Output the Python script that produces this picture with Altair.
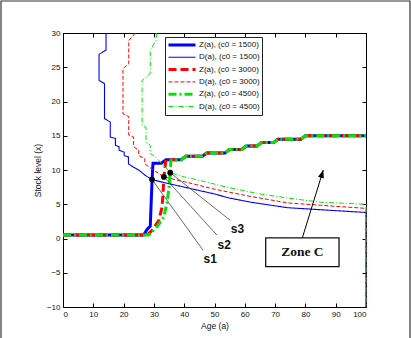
import altair as alt
import pandas as pd

# ---- series definitions -------------------------------------------------
series_names = [
    "Z(a), (c0 = 1500)", "D(a), (c0 = 1500)",
    "Z(a), (c0 = 3000)", "D(a), (c0 = 3000)",
    "Z(a), (c0 = 4500)", "D(a), (c0 = 4500)",
]
series_colors = ["#0000ff", "#0000ff", "#ff0000", "#ff0000", "#00e600", "#00e600"]
series_dashes = [[1, 0], [1, 0], [8, 4], [4, 2], [8, 3, 2, 3], [5, 2, 1, 2]]
series_widths = [3, 1.1, 3, 1, 3, 1]

# shared upper staircase of the Z(a) curves
z_common_x = [34, 39, 40.5, 46, 47.5, 53.5, 55, 59, 60.5, 64, 65.5, 69.5, 71, 78.5, 80, 100]
z_common_y = [11.5, 11.5, 12, 12, 12.5, 12.5, 13, 13, 13.5, 13.5, 14, 14, 14.5, 14.5, 15, 15]

# rising parts of Z(a)
z1500_x = [0, 26.6, 27.7, 28.8, 29.4, 29.7, 32.5, 34]
z1500_y = [0.5, 0.5, 1.3, 1.8, 8.6, 11, 11, 11.5]
z3000_x = [0, 27.7, 29.4, 31.6, 32.7, 33.0, 33.3, 33.8, 34]
z3000_y = [0.5, 0.5, 1.2, 2.6, 4.6, 6.5, 9.0, 10.9, 11.5]
z4500_x = [0, 28.3, 31.0, 33.2, 34.3, 35.0, 35.4, 35.6, 36]
z4500_y = [0.5, 0.5, 1.7, 3.1, 5.1, 7.5, 9.6, 11.4, 11.5]

# D(a) curves
d1500_x = [14.2, 14.2, 11.9, 11.9, 13.7, 13.7, 15.6, 15.6, 17.3, 17.3, 18.5, 18.5, 20.2, 20.2,
           21.6, 21.6, 23.3, 25, 27.2, 29.4, 33, 40, 50, 55, 62, 74, 85, 100, 100]
d1500_y = [30, 27.5, 26.9, 23.1, 22.6, 17.5, 17.0, 14.8, 14.6, 13.6, 13.4, 12.9, 12.6, 12.1,
           11.9, 10.9, 10.4, 10, 9.2, 8.6, 8.2, 7.5, 6.5, 5.9, 5.3, 4.5, 4.2, 3.8, -10]
d3000_x = [23.9, 21.7, 21.7, 19.8, 19.8, 21.7, 21.7, 23.3, 23.3, 25, 25, 27, 27, 28.5, 30.5,
           33.3, 36, 40, 50, 60, 74, 85, 100, 100]
d3000_y = [30, 28.9, 25.5, 24.8, 18.2, 17.8, 15.1, 14.8, 13.4, 12.9, 12.1, 11.7, 10.9, 10.4, 9.8,
           9.0, 8.7, 8.3, 7.2, 6.3, 5.2, 4.85, 4.4, -10]
d4500_x = [30.8, 30.8, 28.8, 28.8, 26.1, 26.1, 27.4, 27.4, 28.8, 28.8, 30.5, 31.6, 33.2, 35.4,
           40, 45, 54, 65, 76, 85, 100, 100]
d4500_y = [30, 29, 27.5, 24.1, 23.1, 16.5, 16.2, 14.1, 13.6, 12.4, 11.9, 11.4, 10.7, 9.6,
           9.0, 8.5, 7.5, 6.5, 5.8, 5.3, 5.0, -10]

# annotation points s1..s3 and their leader lines
mark_labels = ["s1", "s2", "s3"]
mark_x = [29.4, 33.3, 35.4]
mark_y = [8.6, 9.0, 9.6]
leader_x = [46.2, 50.8, 55.2]
leader_y = [-1.7, 0.5, 2.65]
label_x = [48.6, 53.2, 57.6]
label_y = [-3.0, -0.9, 1.4]

# "Zone C" call-out box and arrow
zone_box_x = [66.9, 91.1]
zone_box_y = [-4.1, 0.1]
zone_text = "Zone C"
arrow_from = [79.0, 0.1]
arrow_to = [85.9, 10.0]


def z_curve(xs, ys):
    tail = [(x, y) for x, y in zip(z_common_x, z_common_y) if x > xs[-1]]
    return xs + [p[0] for p in tail], ys + [p[1] for p in tail]


curves = [
    z_curve(z1500_x, z1500_y), (d1500_x, d1500_y),
    z_curve(z3000_x, z3000_y), (d3000_x, d3000_y),
    z_curve(z4500_x, z4500_y), (d4500_x, d4500_y),
]

rows = []
for name, (xs, ys) in zip(series_names, curves):
    for i, (x, y) in enumerate(zip(xs, ys)):
        rows.append({"series": name, "age": x, "stock": y, "idx": i})
lines_df = pd.DataFrame(rows)

x_scale = alt.Scale(domain=[0, 100], nice=False, zero=False)
y_scale = alt.Scale(domain=[-10, 30], nice=False, zero=False)

axis_common = dict(
    grid=False, domain=False, tickColor="#000", tickSize=4, offset=-4,
    labelFont="Liberation Sans", labelFontSize=8, labelColor="#111",
    titleFont="Liberation Sans", titleFontSize=8.5, titleFontWeight="normal",
    titleColor="#111",
)
x_axis = alt.Axis(values=list(range(0, 101, 10)), title="Age (a)",
                  labelPadding=3, titlePadding=3, **axis_common)
y_axis = alt.Axis(values=list(range(-10, 31, 5)), title="Stock level (x)",
                  labelPadding=3, titlePadding=4, **axis_common)
x_top = alt.Axis(values=list(range(0, 101, 10)), orient="top", labels=False,
                 title=None, grid=False, domain=False, tickColor="#000",
                 tickSize=4, offset=-4)
y_right = alt.Axis(values=list(range(-10, 31, 5)), orient="right", labels=False,
                   title=None, grid=False, domain=False, tickColor="#000",
                   tickSize=4, offset=-4)

color_enc = alt.Color("series:N", scale=alt.Scale(domain=series_names, range=series_colors),
                      title=None)
dash_enc = alt.StrokeDash("series:N", scale=alt.Scale(domain=series_names, range=series_dashes),
                          title=None)
width_enc = alt.StrokeWidth("series:N",
                            scale=alt.Scale(type="ordinal", domain=series_names,
                                            range=series_widths),
                            title=None)

layers = []
for k, name in enumerate(series_names):
    ax_x = x_axis if k == 0 else None
    ax_y = y_axis if k == 0 else None
    layers.append(
        alt.Chart(lines_df)
        .transform_filter(alt.datum.series == name)
        .mark_line(strokeCap="butt", strokeJoin="miter")
        .encode(
            x=alt.X("age:Q", scale=x_scale, axis=ax_x),
            y=alt.Y("stock:Q", scale=y_scale, axis=ax_y),
            color=color_enc,
            strokeDash=dash_enc,
            strokeWidth=width_enc,
            order="idx:O",
        )
    )

ann_df = pd.DataFrame({
    "label": mark_labels, "mx": mark_x, "my": mark_y,
    "lx": leader_x, "ly": leader_y, "tx": label_x, "ty": label_y,
})

leaders = alt.Chart(ann_df).mark_rule(color="#444", strokeWidth=0.8).encode(
    x=alt.X("mx:Q", scale=x_scale, axis=None),
    y=alt.Y("my:Q", scale=y_scale, axis=None),
    x2="lx:Q", y2="ly:Q",
)
dots = alt.Chart(ann_df).mark_point(filled=True, color="#000", size=34, opacity=1).encode(
    x=alt.X("mx:Q", scale=x_scale, axis=x_top),
    y=alt.Y("my:Q", scale=y_scale, axis=y_right),
)
dot_labels = alt.Chart(ann_df).mark_text(
    font="Liberation Sans", fontSize=12, fontWeight="bold", color="#111"
).encode(
    x=alt.X("tx:Q", scale=x_scale, axis=None),
    y=alt.Y("ty:Q", scale=y_scale, axis=None),
    text="label:N",
)

zone_df = pd.DataFrame({
    "x0": [zone_box_x[0]], "x1": [zone_box_x[1]],
    "y0": [zone_box_y[0]], "y1": [zone_box_y[1]],
    "cx": [(zone_box_x[0] + zone_box_x[1]) / 2], "cy": [(zone_box_y[0] + zone_box_y[1]) / 2],
    "ax": [arrow_from[0]], "ay": [arrow_from[1]],
    "bx": [arrow_to[0]], "by": [arrow_to[1]],
    "txt": [zone_text],
})
zone_box = alt.Chart(zone_df).mark_rect(fill="white", stroke="#111", strokeWidth=1.3).encode(
    x=alt.X("x0:Q", scale=x_scale, axis=None), x2="x1:Q",
    y=alt.Y("y0:Q", scale=y_scale, axis=None), y2="y1:Q",
)
zone_label = alt.Chart(zone_df).mark_text(
    font="Liberation Serif", fontSize=13.5, fontWeight="bold", color="#111"
).encode(
    x=alt.X("cx:Q", scale=x_scale, axis=None),
    y=alt.Y("cy:Q", scale=y_scale, axis=None),
    text="txt:N",
)
arrow_shaft = alt.Chart(zone_df).mark_rule(color="#000", strokeWidth=1).encode(
    x=alt.X("ax:Q", scale=x_scale, axis=None), x2="bx:Q",
    y=alt.Y("ay:Q", scale=y_scale, axis=None), y2="by:Q",
)
arrow_head = alt.Chart(zone_df).mark_point(
    shape="M0,0L0.38,1L-0.38,1Z", filled=True, color="#000", size=256, angle=17, opacity=1
).encode(
    x=alt.X("bx:Q", scale=x_scale, axis=None),
    y=alt.Y("by:Q", scale=y_scale, axis=None),
)

# frame around the whole figure
frame = alt.Chart(zone_df).mark_rect(fill=None, stroke="#333", strokeWidth=1.2).encode(
    x=alt.value(-62), x2=alt.value(347), y=alt.value(-32), y2=alt.value(306),
)

chart = (
    alt.layer(frame, *layers, leaders, dots, dot_labels, zone_box, zone_label,
              arrow_shaft, arrow_head)
    .resolve_axis(x="independent", y="independent")
    .properties(
        width=303, height=274,
        autosize=alt.AutoSizeParams(type="none"),
        padding={"left": 63, "top": 33, "right": 45, "bottom": 31},
        background="white",
    )
    .configure_view(stroke="#000", strokeWidth=1)
    .configure_legend(
        orient="none", legendX=102, legendY=4,
        fillColor="white", strokeColor="#222", padding=2,
        symbolType="stroke", symbolSize=729, clipHeight=12,
        labelFont="Liberation Sans", labelFontSize=8, labelColor="#111",
        labelOffset=2, rowPadding=0.3, cornerRadius=0,
    )
)

chart.save("out.html", embed_options={"renderer": "svg", "actions": False})
